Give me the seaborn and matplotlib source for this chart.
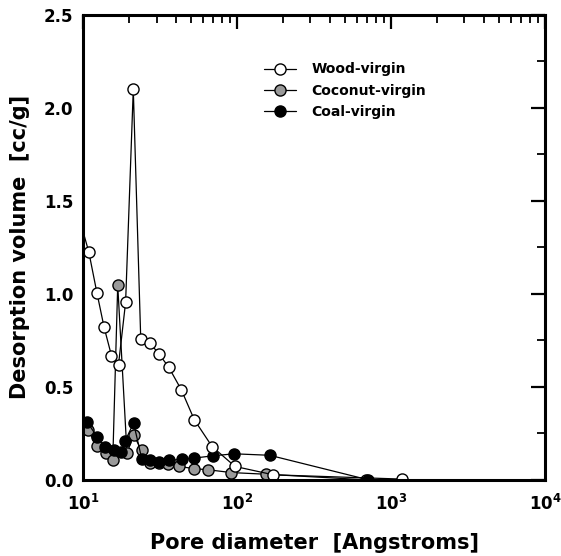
import numpy as np
import pandas as pd
import matplotlib
matplotlib.use("Agg")
import matplotlib.pyplot as plt
import seaborn as sns
from matplotlib.ticker import FixedLocator, LogLocator, MultipleLocator, FormatStrFormatter

# Wood-virgin (open circles)
wood_x = [9.0, 10.9, 12.3, 13.7, 15.3, 17.0, 18.9, 21.2, 23.7, 27.2, 31.0, 36.0,
          43.5, 52.8, 68.9, 97.0, 172.0, 1175.0]
wood_y = [1.47, 1.226, 1.007, 0.821, 0.668, 0.62, 0.955, 2.10, 0.758, 0.735, 0.679,
          0.606, 0.484, 0.323, 0.179, 0.072, 0.027, 0.004]

# Coconut-virgin (grey circles)
coconut_x = [10.7, 12.3, 14.0, 15.6, 16.8, 19.3, 21.3, 24.0, 27.2, 31.2, 35.6,
             42.0, 52.8, 65.0, 92.0, 155.0, 690.0]
coconut_y = [0.27, 0.183, 0.143, 0.108, 1.047, 0.143, 0.242, 0.158, 0.09, 0.09,
             0.085, 0.072, 0.06, 0.054, 0.039, 0.03, 0.0]

# Coal-virgin (black circles)
coal_x = [10.6, 12.3, 13.8, 15.8, 17.7, 18.8, 21.3, 24.1, 27.2, 31.2, 36.3, 43.7,
          52.8, 69.5, 95.6, 163.0, 713.0]
coal_y = [0.313, 0.233, 0.179, 0.158, 0.152, 0.211, 0.305, 0.111, 0.108, 0.098,
          0.104, 0.111, 0.117, 0.129, 0.14, 0.132, 0.0]

sns.set_style("white")
plt.rcParams["font.family"] = ["DejaVu Sans"]
plt.rcParams["font.weight"] = "bold"
plt.rcParams["text.color"] = "black"
plt.rcParams["axes.labelcolor"] = "black"
plt.rcParams["mathtext.fontset"] = "custom"
plt.rcParams["mathtext.rm"] = "DejaVu Sans:bold"
plt.rcParams["mathtext.bf"] = "DejaVu Sans:bold"
plt.rcParams["mathtext.default"] = "rm"

fig = plt.figure(figsize=(5.61, 5.56), dpi=100)
ax = fig.add_axes([0.148, 0.137, 0.8235, 0.836])

series = [
    ("Coconut-virgin", coconut_x, coconut_y, "#9a9a9a"),
    ("Coal-virgin", coal_x, coal_y, "black"),
    ("Wood-virgin", wood_x, wood_y, "white"),
]
handles = {}
for name, xs, ys, fc in series:
    df = pd.DataFrame({"x": xs, "y": ys})
    sns.lineplot(data=df, x="x", y="y", ax=ax, color="black", lw=0.9,
                 marker="o", markersize=8, markerfacecolor=fc,
                 markeredgecolor="black", markeredgewidth=1.0,
                 estimator=None, sort=False, label=name)
    handles[name] = ax.lines[-1]

ax.set_xscale("log")
ax.set_xlim(10, 1e4)
ax.set_ylim(0, 2.5)
ax.yaxis.set_major_locator(MultipleLocator(0.5))
ax.yaxis.set_minor_locator(MultipleLocator(0.25))
ax.yaxis.set_major_formatter(FormatStrFormatter("%.1f"))
ax.xaxis.set_major_locator(LogLocator(base=10, numticks=10))
minor_x = [m * 10.0 ** d for d in range(1, 4) for m in range(2, 10)]
ax.xaxis.set_minor_locator(FixedLocator(minor_x))

for s in ax.spines.values():
    s.set_linewidth(2.2)
    s.set_color("black")
ax.tick_params(which="both", direction="in", top=True, right=True, colors="black")
ax.tick_params(which="major", length=10, width=1.6, labelsize=12)
ax.tick_params(axis="x", which="major", pad=10)
ax.tick_params(axis="y", which="major", pad=7)
ax.tick_params(which="minor", length=6, width=1.3)

ax.set_xlabel("Pore diameter  [Angstroms]", fontsize=15, fontweight="bold",
              labelpad=14, color="black")
ax.set_ylabel("Desorption volume  [cc/g]", fontsize=15, fontweight="bold",
              labelpad=10, color="black")

order = ["Wood-virgin", "Coconut-virgin", "Coal-virgin"]
leg = ax.legend([handles[n] for n in order], order, loc="upper left",
                bbox_to_anchor=(0.365, 0.925), frameon=False, fontsize=10,
                handlelength=2.3, handletextpad=1.1, labelspacing=0.52)
for t in leg.get_texts():
    t.set_fontweight("bold")
    t.set_color("black")

fig.savefig("out.png", dpi=100)
